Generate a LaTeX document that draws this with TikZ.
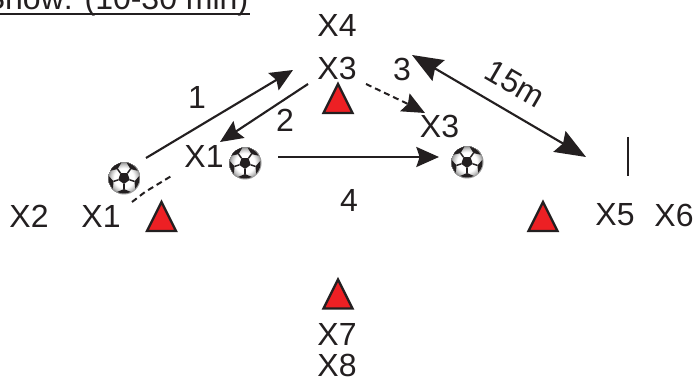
\documentclass[tikz,border=0pt]{standalone}
\usepackage{fontspec}
\setmainfont{Liberation Sans}
\usetikzlibrary{arrows.meta}
\definecolor{ink}{HTML}{231F20}
\definecolor{conered}{HTML}{ED2024}
\pgfdeclareradialshading{ballshade}{\pgfpoint{0bp}{0bp}}{color(0bp)=(white); color(15bp)=(white); color(21bp)=(gray!50); color(25bp)=(gray)}
\tikzset{
 lbl/.style={inner sep=0pt,text=ink,font=\fontsize{24pt}{26pt}\selectfont},
 arr/.style={draw=ink,line width=1.6pt,-{Stealth[length=17pt,width=15pt,inset=2.5pt]}},
 dsh/.style={draw=ink,line width=1.5pt,dash pattern=on 4.5pt off 3pt},
 pics/cone/.style={code={
   \draw[ink,fill=conered,line width=1.7pt,line join=miter] (0,-14.5)--(14.5,14.5)--(-14.5,14.5)--cycle;
 }},
 pics/ballpic/.style={code={
   \shade[shading=ballshade] (0,0) circle (16.5);
   \fill[ink] (90:6)--(162:6)--(234:6)--(306:6)--(18:6)--cycle;
   \foreach \a in {90,162,234,306,18}{
     \fill[ink] (\a:11) -- (\a+26:15.5) arc[start angle=\a+26,end angle=\a-26,radius=15.5] -- cycle;
     \draw[ink,line width=1.1pt] (\a:6) -- (\a:11);
   }
 }}
}
\begin{document}
\begin{tikzpicture}[x=0.75pt,y=-0.75pt]
\useasboundingbox (0,0) rectangle (695,377);
\clip (0,0) rectangle (695,377);
\node[lbl,anchor=base east] (title) at (248.5,10) {Show: (10-30 min)};
\coordinate (ula) at (0,14.5); \coordinate (ulb) at (249.5,14.5);
\draw[ink,line width=1.5pt] (ula)--(ulb);
\node[lbl] (x4) at (337,25) {X4};
\node[lbl] (x3top) at (337,68.5) {X3};
\node[lbl] (x3r) at (439.5,126) {X3};
\node[lbl] (x1m) at (204,156) {X1};
\node[lbl] (x2) at (29,216) {X2};
\node[lbl] (x1l) at (101,216) {X1};
\node[lbl] (x5) at (615,215) {X5};
\node[lbl] (x6) at (674,215) {X6};
\node[lbl] (x7) at (337,334) {X7};
\node[lbl] (x8) at (337,365) {X8};
\node[lbl] (n1) at (197,97.5) {1};
\node[lbl] (n2) at (285,120) {2};
\node[lbl] (n3) at (402,69.5) {3};
\node[lbl] (n4) at (349,200) {4};
\node[lbl,rotate=-30] (m) at (515,84) {15m};
\pic at (161.5,216.5) {cone};
\pic at (338,98.5) {cone};
\pic at (543,216.5) {cone};
\pic at (338,294) {cone};
\pic at (124,178) {ballpic};
\pic at (245,163) {ballpic};
\pic at (467,162) {ballpic};
\coordinate (a1s) at (146,158); \coordinate (a1e) at (293,70);
\draw[arr] (a1s)--(a1e);
\coordinate (a2s) at (308,84); \coordinate (a2e) at (220,142);
\draw[arr] (a2s)--(a2e);
\coordinate (a3s) at (366,84); \coordinate (a3m) at (408,104); \coordinate (a3e) at (425,113);
\draw[dsh] (a3s)--(a3m);
\draw[arr] (a3m)--(a3e);
\coordinate (a4s) at (278,157); \coordinate (a4e) at (439,157);
\draw[arr] (a4s)--(a4e);
\coordinate (a5s) at (412,55); \coordinate (a5e) at (586,157);
\draw[draw=ink,line width=1.6pt,{Stealth[length=23pt,width=18pt,inset=3pt]}-{Stealth[length=23pt,width=18pt,inset=3pt]}] (a5s)--(a5e);
\coordinate (ds) at (132,202); \coordinate (dm) at (145,192); \coordinate (de) at (173,175);
\draw[dsh] (ds)--(dm)--(de);
\coordinate (bt) at (628,137); \coordinate (bb) at (628,176);
\draw[ink,line width=1.6pt] (bt)--(bb);
\end{tikzpicture}
\end{document}
